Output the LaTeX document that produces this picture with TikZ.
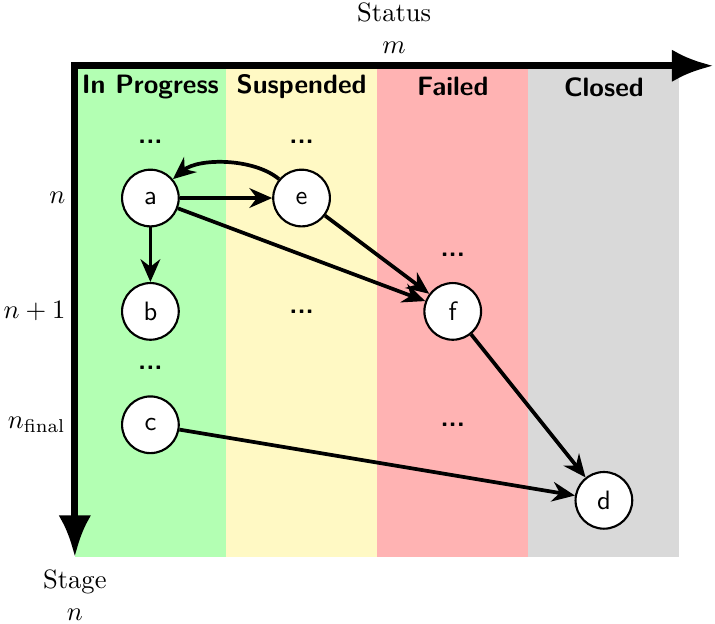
\documentclass[tikz,border=0pt]{standalone}
\usepackage{amsmath}
\usepackage{tikz}
\usetikzlibrary{positioning,arrows.meta}

\definecolor{progressGreen}{RGB}{179,255,179}
\definecolor{suspendedYellow}{RGB}{255,249,196}
\definecolor{failedRed}{RGB}{255,179,179}
\definecolor{closedGray}{RGB}{217,217,217}

\begin{document}
\begin{tikzpicture}[
    state/.style={circle, draw, thick, fill=white, minimum size=7.5mm,
      inner sep=0pt, font=\sffamily},
    trans/.style={line width=1.4pt, -{Stealth[length=3mm,width=2.6mm]}},
    axis/.style={line width=2.6pt},
    header/.style={font=\sffamily\bfseries},
    more/.style={font=\sffamily\bfseries, inner sep=1pt}]
  \useasboundingbox (-0.99,0.87) rectangle (8.47,-7.38);

  % status columns
  \fill[progressGreen] (0,0) rectangle (2,-6.5);
  \fill[suspendedYellow] (2,0) rectangle (4,-6.5);
  \fill[failedRed] (4,0) rectangle (6,-6.5);
  \fill[closedGray] (6,0) rectangle (8,-6.5);
  \node[header] (inProgress) at (1,-0.28) {In Progress};
  \node[header] (suspended) at (3,-0.28) {Suspended};
  \node[header] (failed) at (5,-0.28) {Failed};
  \node[header] (closed) at (7,-0.28) {Closed};

  % axes
  \coordinate (origin) at (0,0);
  \coordinate (statusEnd) at (8.45,0);
  \coordinate (stageEnd) at (0,-6.5);
  \draw[axis, {Latex[length=5.5mm,width=4.3mm]}-{Latex[length=5.5mm,width=4.3mm]}]
    (stageEnd) -- (origin)
    -- node[above, align=center] (statusLabel) {Status\\$m$} (statusEnd);
  \node[below = 0.5mm of stageEnd, align=center] (stageLabel) {Stage\\$n$};

  % stages
  \node[anchor=east] (rowN) at (0,-1.75) {$n$};
  \node[anchor=east] (rowNext) at (0,-3.25) {$n+1$};
  \node[anchor=east] (rowFinal) at (0,-4.75) {$n_{\text{final}}$};

  % states
  \node[state] (a) at (rowN -| inProgress) {a};
  \node[state] (e) at (rowN -| suspended) {e};
  \node[state] (b) at (rowNext -| inProgress) {b};
  \node[state] (f) at (rowNext -| failed) {f};
  \node[state] (c) at (rowFinal -| inProgress) {c};
  \node[state] (d) at (7,-5.75) {d};

  \node[more] at (1,-1) {...};
  \node[more] at (3,-1) {...};
  \node[more] at (5,-2.5) {...};
  \node[more] at (3,-3.25) {...};
  \node[more] at (1,-4) {...};
  \node[more] at (5,-4.75) {...};

  % transitions
  \draw[trans] (a) -- (e);
  \draw[trans] (e) to[bend right=40, looseness=0.8] (a);
  \draw[trans] (a) -- (b);
  \draw[trans] (a) -- (f);
  \draw[trans] (e) -- (f);
  \draw[trans] (f) -- (d);
  \draw[trans] (c) -- (d);
\end{tikzpicture}
\end{document}
